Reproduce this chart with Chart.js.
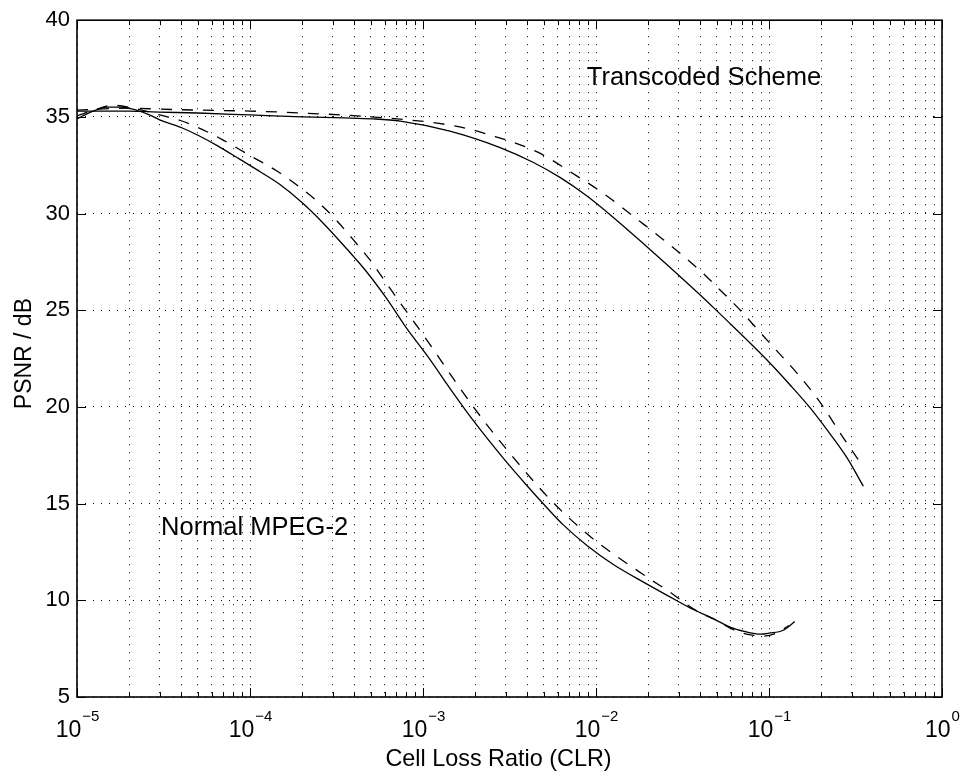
<!DOCTYPE html>
<html><head><meta charset="utf-8">
<script src="https://cdn.jsdelivr.net/npm/chart.js@4/dist/chart.umd.min.js"></script>
<style>html,body{margin:0;padding:0;background:#fff;}#wrap{width:964px;height:773px;}</style>
</head><body><div id="wrap"><canvas id="c" width="964" height="773"></canvas></div>
<script>
// ---- data ----
const xTickExponents = [-5, -4, -3, -2, -1, 0];
const xMinorMultipliers = [2, 3, 4, 5, 6, 7, 8, 9];
const yTickValues = [5, 10, 15, 20, 25, 30, 35, 40];
const xAxisTitle = 'Cell Loss Ratio (CLR)';
const yAxisTitle = 'PSNR / dB';

const normalSolidX = [1e-5,1.2e-5,1.5e-5,1.8e-5,2.2e-5,2.6e-5,3e-5,4e-5,5e-5,6.5e-5,8.75e-5,1.15e-4,1.49e-4,1.99e-4,2.65e-4,3.62e-4,4.73e-4,6.17e-4,8.05e-4,1.05e-3,1.5e-3,1.95e-3,2.91e-3,3.97e-3,5.19e-3,6.47e-3,8.83e-3,1.26e-2,1.96e-2,2.92e-2,3.6e-2,4.76e-2,6e-2,7.5e-2,8.9e-2,1.0e-1,1.21e-1,1.41e-1];
const normalSolidY = [34.9,35.25,35.5,35.5,35.35,35.12,34.85,34.45,34.05,33.5,32.8,32.15,31.5,30.58,29.5,28.18,26.98,25.6,24.06,22.69,20.7,19.3,17.35,15.95,14.8,13.9,12.85,11.85,10.85,9.99,9.55,9.05,8.6,8.35,8.25,8.3,8.45,8.9];

const normalDashedX = [1e-5,1.3e-5,1.6e-5,2e-5,2.5e-5,3e-5,4e-5,5e-5,7e-5,1e-4,1.43e-4,1.95e-4,2.54e-4,3.17e-4,3.95e-4,4.94e-4,6.03e-4,7.36e-4,9.2e-4,1.07e-3,1.57e-3,1.95e-3,2.33e-3,3.64e-3,5.66e-3,8.83e-3,1.15e-2,2.05e-2,2.68e-2,3.65e-2,5e-2,6.5e-2,8e-2,9.2e-2,1.1e-1,1.3e-1];
const normalDashedY = [35.05,35.4,35.6,35.5,35.3,35.1,34.8,34.45,33.8,33.0,32.2,31.35,30.5,29.64,28.65,27.6,26.5,25.4,24.2,23.37,21.2,20.02,19.1,16.97,15.05,13.45,12.65,11.1,10.42,9.56,8.95,8.41,8.2,8.15,8.3,8.7];

const transSolidX = [1e-5,2e-5,3e-5,5e-5,1e-4,2e-4,3.5e-4,5.1e-4,7.4e-4,1.43e-3,2.79e-3,4.35e-3,6.19e-3,8.83e-3,1.26e-2,1.96e-2,3.06e-2,3.99e-2,4.76e-2,6.22e-2,9.68e-2,1.32e-1,1.73e-1,2.15e-1,2.81e-1,3.51e-1];
const transSolidY = [35.3,35.3,35.25,35.2,35.1,35.0,34.95,34.9,34.78,34.26,33.41,32.64,31.87,30.92,29.8,28.3,26.75,25.8,25.15,24.15,22.45,21.15,19.95,18.85,17.4,15.9];

const transDashedX = [1e-5,2e-5,3e-5,5e-5,1e-4,2e-4,4.14e-4,1.15e-3,1.79e-3,2.33e-3,4.54e-3,7.73e-3,1.1e-2,1.79e-2,2.45e-2,3.2e-2,4.17e-2,5.21e-2,6.5e-2,1.01e-1,1.45e-1,1.97e-1,2.69e-1,3.51e-1];
const transDashedY = [35.35,35.45,35.4,35.35,35.3,35.2,35.05,34.7,34.4,34.12,33.2,31.95,31.05,29.6,28.65,27.8,26.9,26.05,25.2,23.3,21.75,20.25,18.4,16.9];

const annotationTexts = ['Transcoded Scheme', 'Normal MPEG-2'];
const annotationAnchorsX = [8.85e-3, 3.06e-5];
const annotationAnchorsY = [36.65, 13.39];

// ---- chart ----
const FONT = '"Liberation Sans", Arial, Helvetica, sans-serif';
const pts = (xs, ys) => xs.map((v, i) => ({x: v, y: ys[i]}));
const xTickValues = [];
xTickExponents.forEach((e, i) => {
  xTickValues.push({v: Math.pow(10, e), major: true});
  if (i < xTickExponents.length - 1) xMinorMultipliers.forEach(m => xTickValues.push({v: m * Math.pow(10, e), major: false}));
});

function ds(label, xs, ys, dashed) {
  return {label, data: pts(xs, ys), borderColor: '#000', borderWidth: 1.3,
    borderDash: dashed ? [11, 10] : [], pointRadius: 0, fill: false,
    cubicInterpolationMode: 'monotone'};
}

const decor = {
  id: 'decor',
  afterDraw(chart) {
    const {ctx, chartArea: a, scales: {x, y}} = chart;
    ctx.save();
    ctx.strokeStyle = '#000';
    ctx.lineWidth = 1;
    const line = (x1, y1, x2, y2) => { ctx.beginPath(); ctx.moveTo(x1, y1); ctx.lineTo(x2, y2); ctx.stroke(); };
    xTickValues.forEach(t => {
      const px = Math.round(x.getPixelForValue(t.v)) + 0.5;
      const len = t.major ? 9 : 5;
      line(px, a.bottom, px, a.bottom - len);
      line(px, a.top, px, a.top + len);
    });
    yTickValues.forEach(v => {
      const py = Math.round(y.getPixelForValue(v)) + 0.5;
      line(a.left, py, a.left + 9, py);
      line(a.right, py, a.right - 9, py);
    });
    ctx.lineWidth = 1.6;
    ctx.strokeRect(a.left, a.top, a.right - a.left, a.bottom - a.top);
    // x tick labels 10^e
    ctx.fillStyle = '#000';
    ctx.textBaseline = 'alphabetic';
    ctx.textAlign = 'left';
    xTickExponents.forEach(e => {
      const cx = x.getPixelForValue(Math.pow(10, e));
      const base = '10', sup = e < 0 ? '\u2212' + Math.abs(e) : String(e);
      ctx.font = '23px ' + FONT;
      const wb = ctx.measureText(base).width;
      ctx.font = '15px ' + FONT;
      const ws = ctx.measureText(sup).width;
      const x0 = cx - (wb + ws) / 2;
      ctx.font = '23px ' + FONT;
      ctx.fillText(base, x0, a.bottom + 40);
      ctx.font = '15px ' + FONT;
      ctx.fillText(sup, x0 + wb + 1, a.bottom + 24);
    });
    // axis titles
    ctx.font = '23.4px ' + FONT;
    ctx.textAlign = 'center';
    ctx.fillText(xAxisTitle, (a.left + a.right) / 2 - 11, a.bottom + 69);
    ctx.save();
    ctx.translate(31, (a.top + a.bottom) / 2 - 5);
    ctx.rotate(-Math.PI / 2);
    ctx.font = '23px ' + FONT;
    ctx.fillText(yAxisTitle, 0, 0);
    ctx.restore();
    // annotations
    ctx.textAlign = 'left';
    ctx.font = '25.5px ' + FONT;
    annotationTexts.forEach((t, i) => {
      ctx.fillText(t, x.getPixelForValue(annotationAnchorsX[i]), y.getPixelForValue(annotationAnchorsY[i]));
    });
    ctx.restore();
  }
};

new Chart(document.getElementById('c'), {
  type: 'line',
  data: {datasets: [
    ds('Normal MPEG-2 (dashed)', normalDashedX, normalDashedY, true),
    ds('Transcoded (dashed)', transDashedX, transDashedY, true),
    ds('Normal MPEG-2', normalSolidX, normalSolidY, false),
    ds('Transcoded Scheme', transSolidX, transSolidY, false)
  ]},
  options: {
    responsive: false, animation: false, devicePixelRatio: 1,
    layout: {padding: {top: 17, right: 22, left: 0, bottom: 0}},
    plugins: {legend: {display: false}, tooltip: {enabled: false}},
    scales: {
      x: {
        type: 'logarithmic', min: 1e-5, max: 1,
        afterBuildTicks: s => { s.ticks = xTickValues.map(t => ({value: t.v, major: t.major})); },
        afterFit: s => { s.height = 76; },
        ticks: {display: false, autoSkip: false},
        grid: {color: '#000', lineWidth: 1, drawTicks: false},
        border: {display: false, dash: [1, 7]},
        title: {display: false, text: xAxisTitle}
      },
      y: {
        type: 'linear', min: 5, max: 40,
        afterBuildTicks: s => { s.ticks = yTickValues.map(v => ({value: v})); },
        afterFit: s => { s.width = 77; },
        ticks: {color: '#000', font: {family: FONT, size: 22}, padding: 7, autoSkip: false},
        grid: {color: '#000', lineWidth: 1, drawTicks: false},
        border: {display: false, dash: [1, 7]},
        title: {display: false, text: yAxisTitle}
      }
    }
  },
  plugins: [decor]
});
</script></body></html>
